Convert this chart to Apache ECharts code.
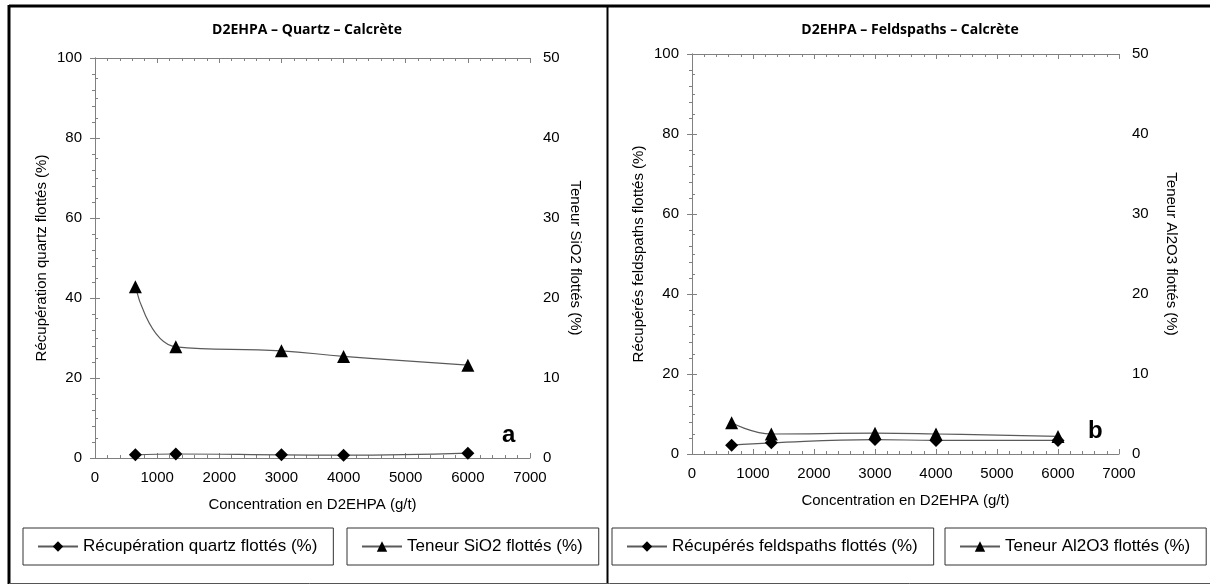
<!DOCTYPE html>
<html><head><meta charset="utf-8">
<script src="https://cdn.jsdelivr.net/npm/echarts@6/dist/echarts.min.js"></script>
<style>html,body{margin:0;padding:0;background:#fff}#c{width:1210px;height:586px}</style>
</head><body><div id="c"></div>
<script>
const concentrations = [650, 1300, 3000, 4000, 6000];
const quartzRecovery = [0.8, 1.0, 0.8, 0.7, 1.2];
const sio2Grade = [21.4, 13.9, 13.4, 12.7, 11.6];
const feldsparRecovery = [2.2, 2.8, 3.6, 3.4, 3.4];
const al2o3Grade = [3.9, 2.5, 2.6, 2.5, 2.2];
const titles = ['D2EHPA – Quartz – Calcrète', 'D2EHPA – Feldspaths – Calcrète'];
const xName = 'Concentration en D2EHPA (g/t)';
const leftNames = ['Récupération quartz flottés (%)', 'Récupérés feldspaths flottés (%)'];
const rightNames = ['Teneur SiO2 flottés (%)', 'Teneur Al2O3 flottés (%)'];
const panelLetters = ['a', 'b'];

const FONT = '"Liberation Sans", Arial, sans-serif';
const AX = '#808080';
const pairs = (ys) => concentrations.map((x, i) => [x, ys[i]]);
const plain = (v) => String(v);

function xAxisDef(gi, top) {
  return {
    type: 'value', gridIndex: gi, position: top ? 'top' : 'bottom',
    min: 0, max: 7000, interval: 1000,
    name: top ? '' : xName, nameLocation: 'middle', nameGap: 39,
    nameTextStyle: { fontFamily: FONT, fontSize: 15, color: '#000' },
    axisLine: { show: true, onZero: false, lineStyle: { color: AX, width: 1 } },
    axisTick: { show: true, inside: true, length: 5, lineStyle: { color: AX } },
    minorTick: { show: true, splitNumber: 5, length: 3, lineStyle: { color: AX } },
    axisLabel: { show: !top, margin: 12, fontFamily: FONT, fontSize: 15, color: '#000', formatter: plain },
    splitLine: { show: false }, minorSplitLine: { show: false }
  };
}
function yAxisDef(gi, right, name, gap) {
  return {
    type: 'value', gridIndex: gi, position: right ? 'right' : 'left',
    min: 0, max: right ? 50 : 100, interval: right ? 10 : 20,
    name: name, nameLocation: 'middle', nameGap: gap, nameRotate: right ? -90 : 90,
    nameTextStyle: { fontFamily: FONT, fontSize: 15, color: '#000' },
    axisLine: { show: true, lineStyle: { color: AX, width: 1 } },
    axisTick: { show: true, inside: true, length: 5, lineStyle: { color: AX } },
    minorTick: { show: true, splitNumber: right ? 5 : 4, length: 3, lineStyle: { color: AX } },
    axisLabel: { margin: 13, fontFamily: FONT, fontSize: 15, color: '#000', formatter: plain },
    splitLine: { show: false }, minorSplitLine: { show: false }
  };
}
function lineSeries(name, xi, yi, data, symbol) {
  return {
    type: 'line', name: name, xAxisIndex: xi, yAxisIndex: yi, data: data,
    smooth: 0.45, symbol: symbol, symbolSize: 13,
    lineStyle: { color: '#5a5a5a', width: 1.2 },
    itemStyle: { color: '#000' }, z: 3
  };
}
function legendDef(name, left) {
  return {
    data: [name], left: left, top: 528, orient: 'horizontal',
    borderColor: '#333', borderWidth: 1, borderRadius: 0,
    padding: [10, 16, 10, 14], itemWidth: 40, itemHeight: 13, itemGap: 0,
    textStyle: { fontFamily: FONT, fontSize: 17, color: '#000' },
    selectedMode: false
  };
}

const chart = echarts.init(document.getElementById('c'), null, { renderer: 'canvas' });
chart.setOption({
  backgroundColor: '#fff',
  animation: false,
  title: [
    { text: titles[0], left: 302, top: 18, textAlign: 'center',
      textStyle: { fontFamily: '"Open Sans", sans-serif', fontWeight: 'bold', fontSize: 14, color: '#000' } },
    { text: titles[1], left: 905, top: 18, textAlign: 'center',
      textStyle: { fontFamily: '"Open Sans", sans-serif', fontWeight: 'bold', fontSize: 14, color: '#000' } }
  ],
  grid: [
    { left: 95, top: 58, width: 435, height: 400 },
    { left: 692, top: 54, width: 427, height: 400 }
  ],
  xAxis: [xAxisDef(0, false), xAxisDef(0, true), xAxisDef(1, false), xAxisDef(1, true)],
  yAxis: [
    yAxisDef(0, false, leftNames[0], 46), yAxisDef(0, true, rightNames[0], 38),
    yAxisDef(1, false, leftNames[1], 46), yAxisDef(1, true, rightNames[1], 45)
  ],
  legend: [
    legendDef(leftNames[0], 23), legendDef(rightNames[0], 347),
    legendDef(leftNames[1], 612), legendDef(rightNames[1], 945)
  ],
  series: [
    lineSeries(leftNames[0], 0, 0, pairs(quartzRecovery), 'diamond'),
    lineSeries(rightNames[0], 0, 1, pairs(sio2Grade), 'triangle'),
    lineSeries(rightNames[1], 2, 3, pairs(al2o3Grade), 'triangle'),
    lineSeries(leftNames[1], 2, 2, pairs(feldsparRecovery), 'diamond')
  ],
  graphic: [
    { type: 'line', shape: { x1: 9, y1: 6, x2: 1210, y2: 6 }, style: { stroke: '#000', lineWidth: 3 } },
    { type: 'line', shape: { x1: 9, y1: 5, x2: 9, y2: 584 }, style: { stroke: '#000', lineWidth: 3 } },
    { type: 'line', shape: { x1: 607.5, y1: 6, x2: 607.5, y2: 584 }, style: { stroke: '#000', lineWidth: 2 } },
    { type: 'line', shape: { x1: 9, y1: 583.5, x2: 1210, y2: 583.5 }, style: { stroke: '#555', lineWidth: 1 } },
    { type: 'text', left: 502, top: 423, style: { text: panelLetters[0], font: 'bold 24px "Liberation Sans", Arial, sans-serif', fill: '#000' } },
    { type: 'text', left: 1088, top: 419, style: { text: panelLetters[1], font: 'bold 24px "Liberation Sans", Arial, sans-serif', fill: '#000' } }
  ]
});
</script></body></html>
